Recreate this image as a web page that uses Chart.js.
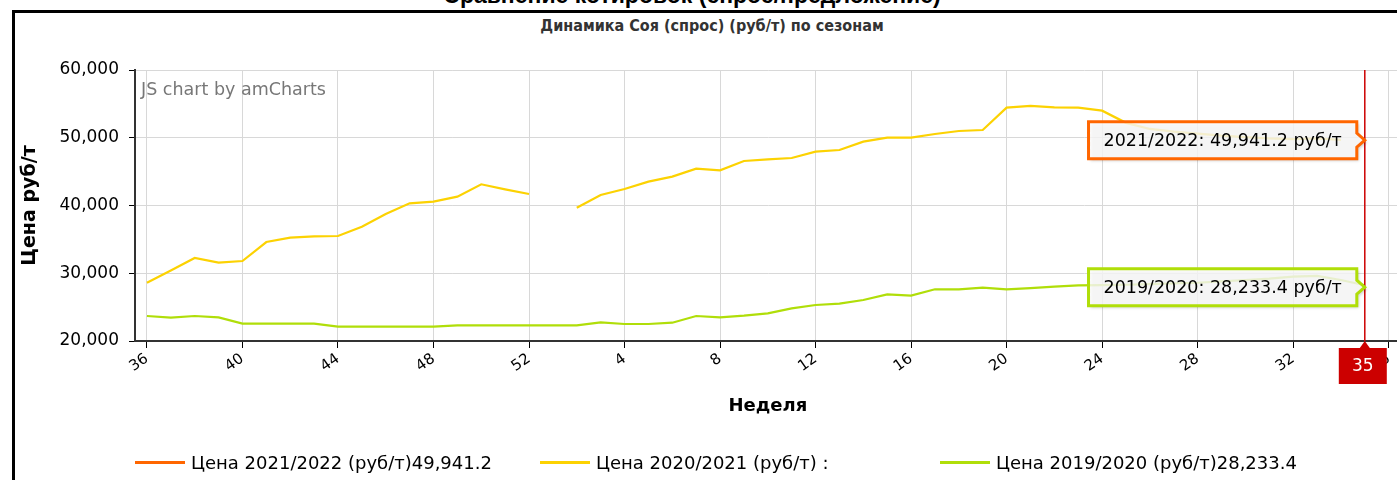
<!DOCTYPE html>
<html lang="ru">
<head>
	<meta charset="UTF-8">
	<title>Динамика Соя (спрос)</title>
	<script src="https://cdn.jsdelivr.net/npm/chart.js"></script>
	<style>
		body { margin: 0; width: 1397px; height: 480px; overflow: hidden; background: #fff; position: relative; font-family: "DejaVu Sans", Verdana, sans-serif; }
		#ttl { position: absolute; top: -18px; left: 0; width: 1384px; text-align: center; font: bold 23px "Liberation Sans", Arial, sans-serif; color: #000; white-space: nowrap; }
		#frame { position: absolute; left: 12px; top: 10px; width: 1400px; height: 480px; border-left: 3px solid #000; border-top: 3px solid #000; }
		#sub { position: absolute; top: 16px; left: 0; width: 1424px; text-align: center; font: bold 16px "Liberation Sans Narrow", "DejaVu Sans Condensed", sans-serif; color: #333; }
		#chart { position: absolute; left: 0; top: 0; }
		#legend { position: absolute; left: 0; top: 452px; width: 1397px; height: 26px; }
		.item { position: absolute; top: 0; display: flex; align-items: center; font-size: 18px; color: #000; white-space: nowrap; }
		.item i { display: inline-block; width: 50px; height: 3px; margin-right: 6px; }
	</style>
</head>
<body>
	<div id="ttl">Сравнение котировок (спрос/предложение)</div>
	<div id="frame"></div>
	<div id="sub">Динамика Соя (спрос) (руб/т) по сезонам</div>
	<canvas id="chart" width="1401" height="480"></canvas>
	<div id="legend"></div>

	<script type="text/javascript">
		// недели сезона: с 36-й по 52-ю, затем с 1-й по 36-ю
		var weeks = [36, 37, 38, 39, 40, 41, 42, 43, 44, 45, 46, 47, 48, 49, 50, 51, 52,
			1, 2, 3, 4, 5, 6, 7, 8, 9, 10, 11, 12, 13, 14, 15, 16, 17, 18, 19, 20,
			21, 22, 23, 24, 25, 26, 27, 28, 29, 30, 31, 32, 33, 34, 35, 36];

		var seasons = ['2021/2022', '2020/2021', '2019/2020'];
		var colors = ['#FF6600', '#FCD202', '#B0DE09'];

		var price2122 = [null, null, null, null, null, null, null, null, null, null, null, null, null, null, null, null, null,
			null, null, null, null, null, null, null, null, null, null, null, null, null, null, null, null, null, null, null, null,
			null, null, null, null, null, null, null, null, null, null, null, null, null, null, 49941.2, null];

		var price2021 = [28600, 30400, 32250, 31560, 31810, 34610, 35250, 35450, 35500, 36870, 38750, 40320, 40570, 41300, 43130, 42390, 41700,
			null, 39680, 41550, 42440, 43520, 44260, 45430, 45190, 46570, 46810, 47010, 47940, 48190, 49420, 50010, 50010, 50550, 51000, 51140, 54440,
			54690, 54490, 54440, 54000, 52200, 51300, 50900, 50600, 50300, 50100, 49900, 49800, 49900, 49700, null, null];

		var price1920 = [23690, 23440, 23690, 23490, 22560, 22560, 22560, 22560, 22110, 22110, 22110, 22110, 22110, 22310, 22310, 22310, 22310,
			22310, 22310, 22760, 22510, 22510, 22700, 23690, 23490, 23740, 24080, 24820, 25310, 25510, 26050, 26890, 26690, 27630, 27630, 27870, 27630,
			27800, 28020, 28210, 28250, 28300, 28400, 28500, 28600, 28800, 29000, 29200, 29500, 29600, 29000, 28233.4, null];

		var yTicks = [20000, 30000, 40000, 50000, 60000];
		var cursorWeek = 35;

		var series = [price2122, price2021, price1920];
		var cursorIndex = weeks.indexOf(cursorWeek);

		function fmt(v) {
			return v.toLocaleString('en-US', { minimumFractionDigits: 1, maximumFractionDigits: 1 });
		}

		// легенда
		var legendLeft = [135, 540, 940];
		var legend = document.getElementById('legend');
		seasons.forEach(function (s, k) {
			var v = series[k][cursorIndex];
			var el = document.createElement('div');
			el.className = 'item';
			el.style.left = legendLeft[k] + 'px';
			el.innerHTML = '<i style="background:' + colors[k] + '"></i>Цена ' + s + ' (руб/т)' + (v != null ? fmt(v) : ' :');
			legend.appendChild(el);
		});

		var overlay = {
			id: 'overlay',
			afterDraw: function (chart) {
				var ctx = chart.ctx, area = chart.chartArea;
				var xs = chart.scales.x, ys = chart.scales.y;
				var cx = xs.getPixelForValue(cursorIndex);

				ctx.save();
				ctx.font = '17.5px "DejaVu Sans"';
				ctx.fillStyle = '#777';
				ctx.textBaseline = 'top';
				ctx.fillText('JS chart by amCharts', area.left + 6, area.top + 12);

				// курсор
				ctx.strokeStyle = '#CC0000';
				ctx.lineWidth = 1.5;
				ctx.beginPath();
				ctx.moveTo(cx, area.top);
				ctx.lineTo(cx, area.bottom);
				ctx.stroke();

				// подсказки
				ctx.font = '17.5px "DejaVu Sans"';
				ctx.textBaseline = 'middle';
				seasons.forEach(function (s, k) {
					var v = series[k][cursorIndex];
					if (v == null) return;
					var y = ys.getPixelForValue(v) + 2;
					var txt = s + ': ' + fmt(v) + ' руб/т';
					var w = ctx.measureText(txt).width + 30, h = 37;
					var r = cx - 8, l = r - w, t = y - h / 2, b = y + h / 2;
					ctx.save();
					ctx.shadowColor = 'rgba(0,0,0,0.25)';
					ctx.shadowOffsetX = 2;
					ctx.shadowOffsetY = 2;
					ctx.shadowBlur = 3;
					ctx.beginPath();
					ctx.moveTo(l, t);
					ctx.lineTo(r, t);
					ctx.lineTo(r, y - 7);
					ctx.lineTo(cx, y);
					ctx.lineTo(r, y + 7);
					ctx.lineTo(r, b);
					ctx.lineTo(l, b);
					ctx.closePath();
					ctx.fillStyle = 'rgba(255,255,255,0.8)';
					ctx.fill();
					ctx.restore();
					ctx.strokeStyle = colors[k];
					ctx.lineWidth = 3;
					ctx.stroke();
					ctx.fillStyle = '#000';
					ctx.fillText(txt, l + 15, y + 1);
				});

				// метка недели на оси
				var bt = area.bottom + 7, bw = 48, bh = 36, bl = cx - 26;
				ctx.fillStyle = '#CC0000';
				ctx.beginPath();
				ctx.moveTo(cx - 5, bt);
				ctx.lineTo(cx, area.bottom);
				ctx.lineTo(cx + 5, bt);
				ctx.closePath();
				ctx.fill();
				ctx.fillRect(bl, bt, bw, bh);
				ctx.fillStyle = '#fff';
				ctx.textAlign = 'center';
				ctx.font = '17px "DejaVu Sans"';
				ctx.fillText(String(cursorWeek), bl + bw / 2, bt + bh / 2 + 1);
				ctx.restore();
			}
		};

		var chart = new Chart(document.getElementById('chart'), {
			type: 'line',
			data: {
				labels: weeks,
				datasets: seasons.map(function (s, k) {
					return {
						label: 'Цена ' + s + ' (руб/т)',
						data: series[k],
						borderColor: colors[k],
						backgroundColor: colors[k],
						borderWidth: 2.2,
						pointRadius: 0,
						tension: 0,
						spanGaps: false
					};
				})
			},
			options: {
				responsive: false,
				animation: false,
				layout: { padding: { left: 15, top: 70, right: 0, bottom: 59 } },
				plugins: { legend: { display: false }, tooltip: { enabled: false } },
				scales: {
					x: {
						offset: true,
						afterFit: function (s) { s.height = 80; },
						grid: { color: '#d8d8d8', tickColor: '#000', tickLength: 7, offset: false },
						border: { color: '#333', width: 2 },
						ticks: {
							autoSkip: false, maxRotation: 35, minRotation: 35, padding: 2,
							color: '#000', font: { family: 'DejaVu Sans', size: 15 },
							callback: function (v, i) { return i % 4 === 0 ? weeks[i] : null; }
						},
						title: { display: true, text: 'Неделя', color: '#000', font: { family: 'DejaVu Sans', size: 18, weight: 'bold' }, padding: { top: 12 } }
					},
					y: {
						min: yTicks[0], max: yTicks[yTicks.length - 1],
						afterFit: function (s) { s.width = 120; },
						afterBuildTicks: function (s) { s.ticks = yTicks.map(function (v) { return { value: v }; }); },
						grid: { color: '#d8d8d8', tickColor: '#000', tickLength: 6 },
						border: { color: '#333', width: 2 },
						ticks: {
							color: '#000', padding: 10, font: { family: 'DejaVu Sans', size: 17 },
							callback: function (v) { return v.toLocaleString('en-US'); }
						},
						title: { display: true, text: 'Цена руб/т', color: '#000', font: { family: 'DejaVu Sans', size: 19, weight: 'bold' }, padding: { top: 4, bottom: 0 } }
					}
				}
			},
			plugins: [overlay]
		});
	</script>
</body>
</html>
